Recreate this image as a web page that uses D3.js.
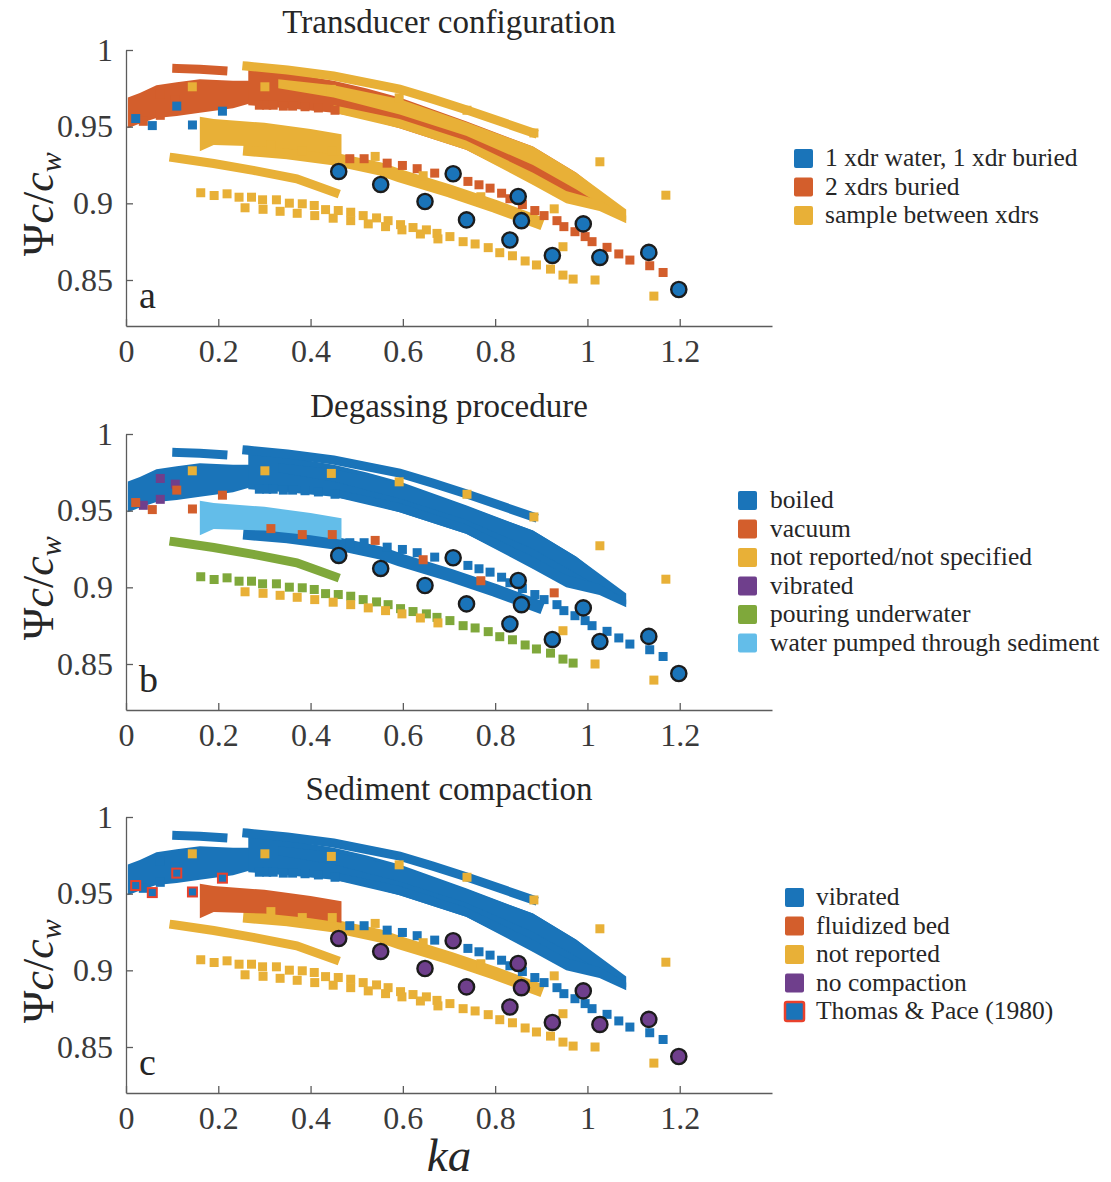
<!DOCTYPE html>
<html>
<head>
<meta charset="utf-8">
<script src="https://cdn.jsdelivr.net/npm/d3@7"></script>
<style>
  body { margin: 0; background: #fff; }
  text { font-family: "Liberation Serif", "Times New Roman", serif; fill: #262626; }
  .axis path, .axis line { stroke: #5c5c5c; stroke-width: 1.3; }
  .axis text { font-size: 32px; fill: #3a3a3a; }
</style>
</head>
<body>
<div id="chart"></div>
<script>
// ---- data: [ka, psi*c/c_w] ----
const xTicks = [0, 0.2, 0.4, 0.6, 0.8, 1, 1.2];
const yTicks = [0.85, 0.9, 0.95, 1];
const titles = ["Transducer configuration", "Degassing procedure", "Sediment compaction"];
const panelLetters = ["a", "b", "c"];

const legendA = ["1 xdr water, 1 xdr buried", "2 xdrs buried", "sample between xdrs"];
const legendB = ["boiled", "vacuum", "not reported/not specified", "vibrated", "pouring underwater", "water pumped through sediment"];
const legendC = ["vibrated", "fluidized bed", "not reported", "no compaction", "Thomas & Pace (1980)"];

const circlePts = [[0.461,0.9208],[0.552,0.9123],[0.648,0.9012],[0.709,0.9193],[0.738,0.8892],
  [0.832,0.8761],[0.850,0.9045],[0.857,0.8887],[0.924,0.866],[0.991,0.8866],[1.027,0.8647],
  [1.133,0.868],[1.198,0.8438]];
const thomasPacePts = [[0.021,0.9553],[0.057,0.9507],[0.110,0.9634],[0.144,0.9511],[0.209,0.9601]];
const vibratedPts = [[0.0375,0.9535],[0.0743,0.971],[0.0743,0.9574],[0.1068,0.9673]];
const vacuumPts = [[0.314,0.9383],[0.382,0.9344],[0.447,0.9344],[0.540,0.9306],[0.644,0.918],
  [0.769,0.9043],[0.928,0.8964]];
const notReportedPts = [[0.1437,0.976],[0.301,0.976],[0.445,0.9743],[0.592,0.9688],[0.739,0.9607],
  [0.884,0.9459],[1.027,0.9271],[1.170,0.9053],[0.947,0.8717],[1.0165,0.850],[1.144,0.8395]];
const upperRowPts = [[0.162,0.9069],[0.191,0.9051],[0.219,0.9062],[0.245,0.904],[0.272,0.904],
  [0.296,0.9023],[0.326,0.9023],[0.354,0.9001],[0.382,0.8997],[0.408,0.8986],[0.4325,0.8959],
  [0.46,0.8953],[0.487,0.8942],[0.514,0.892],[0.543,0.8905],[0.568,0.8887],[0.595,0.8861],
  [0.622,0.8842],[0.651,0.8827],[0.674,0.8804],[0.702,0.8783],[0.7306,0.875],[0.7566,0.8735],
  [0.785,0.8711],[0.810,0.8678],[0.8375,0.8658],[0.865,0.8624],[0.8895,0.8598],[0.920,0.8571],
  [0.947,0.8532],[0.969,0.8506]];
const lowerRowPts = [[0.258,0.8971],[0.297,0.8961],[0.334,0.8948],[0.371,0.8935],[0.409,0.892],
  [0.449,0.8903],[0.487,0.8887],[0.525,0.8866],[0.5625,0.8848],[0.598,0.8827],[0.638,0.88],[0.676,0.8768]];
const dottedRowPts = [[0.485,0.9291],[0.516,0.9291],[0.566,0.9262],[0.599,0.9247],[0.631,0.9226],
  [0.669,0.9197],[0.741,0.9143],[0.765,0.9121],[0.789,0.9099],[0.814,0.9066],[0.832,0.903],
  [0.859,0.8992],[0.886,0.8953],[0.906,0.892],[0.934,0.8887],[0.949,0.8848],[0.973,0.8815],
  [0.995,0.8783],[1.01,0.875],[1.0425,0.8713],[1.068,0.867],[1.092,0.863],[1.135,0.8593],[1.164,0.8549]];
const midRowPts = [[0.289,0.964],[0.305,0.964],[0.319,0.964],[0.341,0.9634],[0.361,0.9634],
  [0.388,0.963],[0.417,0.9622],[0.453,0.9607]];

// dense runs of overlapping markers, traced as centre lines
const shortTopLine = [[0.11,0.988],[0.16,0.9875],[0.21,0.9865]];
const topLine = [[0.262,0.9895],[0.35,0.987],[0.45,0.983],[0.593,0.9745],[0.665,0.968],
  [0.737,0.961],[0.81,0.9535],[0.882,0.946]];
const thinLine = [[0.104,0.9297],[0.19,0.926],[0.276,0.9215],[0.37,0.916],[0.453,0.907]];
const eLine = [[0.268,0.935],[0.35,0.933],[0.449,0.929],[0.55,0.9225],[0.593,0.918],
  [0.702,0.908],[0.8,0.898],[0.89,0.888]];

// dense bands traced as [ka, lower edge, upper edge]
const leftBand = [[0.004,0.949,0.969],[0.03,0.952,0.972],[0.066,0.9557,0.977],[0.11,0.957,0.979],
  [0.16,0.959,0.981],[0.232,0.962,0.980],[0.29,0.967,0.980]];
const pumpedBand = [[0.16,0.934,0.9565],[0.19,0.938,0.955],[0.3,0.937,0.9525],[0.4,0.934,0.9485],[0.467,0.931,0.945]];
const mainBandO = [[0.265,0.964,0.9875],[0.35,0.962,0.985],[0.45,0.959,0.980],[0.52,0.955,0.975],
  [0.593,0.949,0.969],[0.737,0.935,0.9535],[0.882,0.913,0.937],[0.976,0.901,0.920],[1.03,0.896,0.907]];
const mainBandYUpper = [[0.33,0.975,0.981],[0.45,0.969,0.977],[0.593,0.958,0.968],[0.737,0.944,0.953],
  [0.882,0.925,0.937],[0.976,0.909,0.920],[1.084,0.889,0.896]];
const mainBandYLower = [[0.45,0.959,0.964],[0.593,0.949,0.955],[0.737,0.935,0.941],
  [0.882,0.912,0.920],[0.954,0.900,0.908],[1.026,0.895,0.902],[1.084,0.887,0.892]];

// ---- styling ----
const col = { blue: "#1a74b9", orange: "#d35e2c", yellow: "#e8b037", purple: "#6f3f8c",
  green: "#7fa83b", light: "#63bde9" };
const legendCols = [
  ["blue", "orange", "yellow"],
  ["blue", "orange", "yellow", "purple", "green", "light"],
  ["blue", "orange", "yellow", "purple", "tp"]
];
const legendPos = [{x: 794, y: 149, tx: 825}, {x: 738, y: 491, tx: 770}, {x: 785, y: 888, tx: 816}];
const legends = [legendA, legendB, legendC];

// draw order, colour of each set in panels a, b, c
const layers = [
  {kind: "area", data: leftBand, c: ["orange", "blue", "blue"]},
  {kind: "line", data: shortTopLine, c: ["orange", "blue", "blue"]},
  {kind: "area", data: mainBandO, c: ["orange", "blue", "blue"]},
  {kind: "area", data: mainBandYUpper, c: ["yellow", "blue", "blue"]},
  {kind: "area", data: mainBandYLower, c: ["yellow", "blue", "blue"]},
  {kind: "line", data: topLine, c: ["yellow", "blue", "blue"]},
  {kind: "sq", data: midRowPts, c: ["orange", "blue", "blue"]},
  {kind: "line", data: eLine, c: ["yellow", "blue", "yellow"], w: 13},
  {kind: "sq", data: dottedRowPts, c: ["orange", "blue", "blue"]},
  {kind: "area", data: pumpedBand, c: ["yellow", "light", "orange"]},
  {kind: "line", data: thinLine, c: ["yellow", "green", "yellow"]},
  {kind: "sq", data: upperRowPts, c: ["yellow", "green", "yellow"]},
  {kind: "sq", data: lowerRowPts, c: ["yellow", "yellow", "yellow"]},
  {kind: "sq", data: vibratedPts, c: ["orange", "purple", "blue"]},
  {kind: "sq", data: vacuumPts, c: ["yellow", "orange", "yellow"]},
  {kind: "sq", data: thomasPacePts, c: ["blue", "orange", "tp"]},
  {kind: "sq", data: notReportedPts, c: ["yellow", "yellow", "yellow"]},
  {kind: "circle", data: circlePts, c: ["blue", "blue", "purple"]}
];

const W = 1111, H = 1182;
const svg = d3.select("#chart").append("svg").attr("width", W).attr("height", H);
svg.append("rect").attr("width", W).attr("height", H).attr("fill", "white");

const x = d3.scaleLinear().domain([0, 1.4]).range([126, 772]);
const panelTops = [50, 434, 817];
const plotH = 276;
const sq = 9;

panelTops.forEach(function(top, p) {
  const y = d3.scaleLinear().domain([0.82, 1]).range([top + plotH, top]);
  const g = svg.append("g");

  layers.forEach(function(L) {
    const cname = L.c[p];
    const fill = cname === "tp" ? col.blue : col[cname];
    if (L.kind === "area") {
      const area = d3.area().x(d => x(d[0])).y0(d => y(d[1])).y1(d => y(d[2]));
      g.append("path").datum(L.data).attr("d", area).attr("fill", fill);
    } else if (L.kind === "line") {
      const line = d3.line().x(d => x(d[0])).y(d => y(d[1]));
      g.append("path").datum(L.data).attr("d", line).attr("fill", "none")
        .attr("stroke", fill).attr("stroke-width", L.w || sq).attr("stroke-linecap", "square");
    } else if (L.kind === "sq") {
      g.selectAll(null).data(L.data).enter().append("rect")
        .attr("x", d => x(d[0]) - sq / 2).attr("y", d => y(d[1]) - sq / 2)
        .attr("width", sq).attr("height", sq).attr("fill", fill)
        .attr("stroke", cname === "tp" ? "#e8412c" : "none").attr("stroke-width", 2);
    } else {
      g.selectAll(null).data(L.data).enter().append("circle")
        .attr("cx", d => x(d[0])).attr("cy", d => y(d[1])).attr("r", 7.6)
        .attr("fill", fill).attr("stroke", "#1c1c1c").attr("stroke-width", 2.4);
    }
  });

  // axes
  g.append("g").attr("class", "axis").attr("transform", "translate(0," + (top + plotH) + ")")
    .call(d3.axisBottom(x).tickValues(xTicks).tickSizeInner(-7).tickSizeOuter(0).tickPadding(13)
      .tickFormat(d => String(+d.toFixed(2))));
  g.append("g").attr("class", "axis").attr("transform", "translate(126,0)")
    .call(d3.axisLeft(y).tickValues(yTicks).tickSizeInner(-7).tickSizeOuter(0).tickPadding(13)
      .tickFormat(d => String(+d.toFixed(2))));

  // title
  svg.append("text").attr("x", 449).attr("y", top - 17).attr("text-anchor", "middle")
    .style("font-size", "33px").text(titles[p]);

  // panel letter
  svg.append("text").attr("x", 139).attr("y", top + 258).style("font-size", "38px").text(panelLetters[p]);

  // y label
  const yl = svg.append("text").attr("text-anchor", "middle")
    .attr("transform", "translate(53," + (top + 154) + ")rotate(-90)").style("font-size", "44px");
  yl.append("tspan").text("\u03A8");
  yl.append("tspan").style("font-style", "italic").text("c");
  yl.append("tspan").text("/");
  yl.append("tspan").style("font-style", "italic").text("c");
  yl.append("tspan").style("font-style", "italic").style("font-size", "30px").attr("dy", 8).text("w");

  // legend
  const lp = legendPos[p];
  legends[p].forEach(function(name, i) {
    const cname = legendCols[p][i];
    svg.append("rect").attr("x", lp.x).attr("y", lp.y + i * 28.5).attr("width", 19).attr("height", 19)
      .attr("rx", 2).attr("fill", cname === "tp" ? col.blue : col[cname])
      .attr("stroke", cname === "tp" ? "#e8412c" : "none").attr("stroke-width", 2.5);
    svg.append("text").attr("x", lp.tx).attr("y", lp.y + i * 28.5 + 17).style("font-size", "25.5px").text(name);
  });
});

svg.append("text").attr("x", 449).attr("y", 1171).attr("text-anchor", "middle")
  .style("font-size", "47px").style("font-style", "italic").text("ka");
</script>
</body>
</html>
